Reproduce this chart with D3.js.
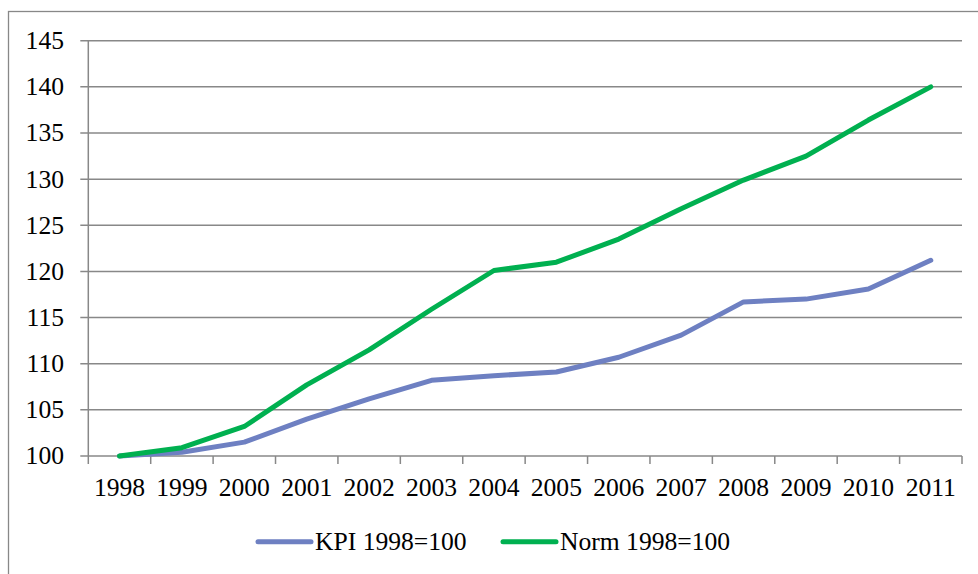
<!DOCTYPE html>
<html>
<head>
<meta charset="utf-8">
<script src="https://cdn.jsdelivr.net/npm/d3@7"></script>
<style>
  body { margin: 0; background: #fff; }
  text { font-family: "Liberation Serif", "Times New Roman", serif; fill: #000; }
</style>
</head>
<body>
<div id="chart"></div>
<script>
// data
var years = ["1998","1999","2000","2001","2002","2003","2004","2005","2006","2007","2008","2009","2010","2011"];
var kpi  = [100, 100.4, 101.5, 104.0, 106.2, 108.2, 108.7, 109.1, 110.7, 113.1, 116.7, 117.0, 118.1, 121.2];
var norm = [100, 100.9, 103.2, 107.7, 111.5, 115.9, 120.1, 121.0, 123.5, 126.8, 129.9, 132.5, 136.4, 140.0];
var yTicks = [100, 105, 110, 115, 120, 125, 130, 135, 140, 145];
var seriesNames = ["KPI 1998=100", "Norm 1998=100"];

var width = 978, height = 574;
var margin = {top: 40.7, left: 88.3, right: 16, bottom: 118};
var gridColor = "#888888";
var colors = ["#6E80C2", "#00B050"];
var fontSize = "25.6px";

var svg = d3.select("#chart")
  .append("svg")
  .attr("width", width)
  .attr("height", height);

// outer chart frame (runs off the right and bottom edge)
svg.append("rect")
  .attr("x", 8.5)
  .attr("y", 11.5)
  .attr("width", 1000)
  .attr("height", 600)
  .attr("fill", "none")
  .attr("stroke", gridColor)
  .attr("stroke-width", 1.3);

var x = d3.scaleBand()
  .domain(years)
  .range([margin.left, 962]);

var y = d3.scaleLinear()
  .domain([100, 145])
  .range([456, margin.top]);

// horizontal gridlines with small outside ticks
svg.append("g")
  .selectAll("line")
  .data(yTicks)
  .enter().append("line")
  .attr("x1", margin.left - 8)
  .attr("x2", 962)
  .attr("y1", function(d) { return y(d); })
  .attr("y2", function(d) { return y(d); })
  .attr("stroke", gridColor)
  .attr("stroke-width", 1.5);

// y labels
svg.append("g")
  .selectAll("text")
  .data(yTicks)
  .enter().append("text")
  .attr("x", 64)
  .attr("y", function(d) { return y(d); })
  .attr("dy", "0.33em")
  .attr("text-anchor", "end")
  .style("font-size", fontSize)
  .text(function(d) { return d; });

// y axis line
svg.append("line")
  .attr("x1", margin.left).attr("x2", margin.left)
  .attr("y1", y(145)).attr("y2", y(100))
  .attr("stroke", gridColor)
  .attr("stroke-width", 1.5);

// x axis: ticks between categories
var bounds = years.map(function(d) { return x(d); }).concat([x.range()[1]]);
svg.append("g")
  .selectAll("line")
  .data(bounds)
  .enter().append("line")
  .attr("x1", function(d) { return d; })
  .attr("x2", function(d) { return d; })
  .attr("y1", y(100))
  .attr("y2", y(100) + 8)
  .attr("stroke", gridColor)
  .attr("stroke-width", 1.5);

svg.append("g")
  .selectAll("text")
  .data(years)
  .enter().append("text")
  .attr("x", function(d) { return x(d) + x.bandwidth() / 2; })
  .attr("y", 496)
  .attr("text-anchor", "middle")
  .style("font-size", fontSize)
  .text(function(d) { return d; });

// lines
var line = d3.line()
  .x(function(d, i) { return x(years[i]) + x.bandwidth() / 2; })
  .y(function(d) { return y(d); });

[kpi, norm].forEach(function(s, i) {
  svg.append("path")
    .datum(s)
    .attr("fill", "none")
    .attr("stroke", colors[i])
    .attr("stroke-width", 5)
    .attr("stroke-linecap", "round")
    .attr("stroke-linejoin", "round")
    .attr("d", line);
});

// legend
var legendX = [258, 503];
seriesNames.forEach(function(name, i) {
  svg.append("line")
    .attr("x1", legendX[i]).attr("x2", legendX[i] + 53)
    .attr("y1", 541.7).attr("y2", 541.7)
    .attr("stroke", colors[i])
    .attr("stroke-width", 5)
    .attr("stroke-linecap", "round");
  svg.append("text")
    .attr("x", legendX[i] + 57)
    .attr("y", 550)
    .style("font-size", fontSize)
    .text(name);
});
</script>
</body>
</html>
